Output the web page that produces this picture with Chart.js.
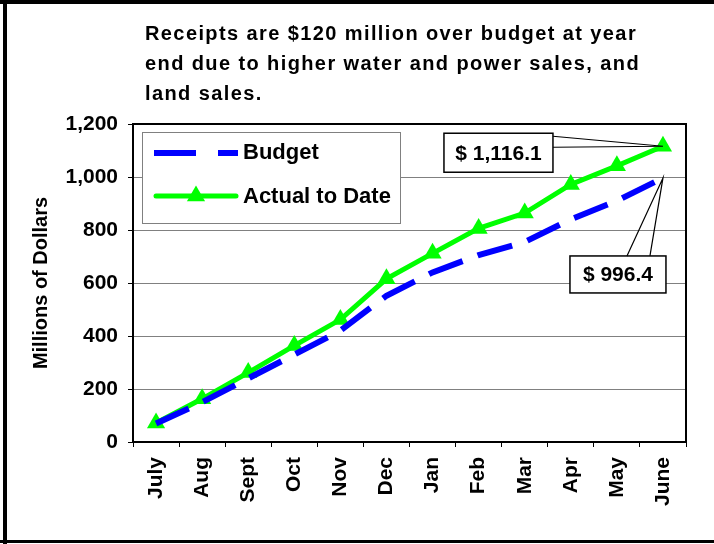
<!DOCTYPE html>
<html>
<head>
<meta charset="utf-8">
<script src="https://cdn.jsdelivr.net/npm/chart.js@4.4.1/dist/chart.umd.min.js"></script>
<style>
  html, body { margin: 0; padding: 0; background: #fff; }
  #wrap { width: 714px; height: 544px; }
</style>
</head>
<body>
<div id="wrap"><canvas id="myChart" width="714" height="544"></canvas></div>
<script>
const months = ['July', 'Aug', 'Sept', 'Oct', 'Nov', 'Dec', 'Jan', 'Feb', 'Mar', 'Apr', 'May', 'June'];
const budget = [70, 150, 240, 330, 420, 552, 640, 705, 755, 840, 910, 996.4];
const actual = [72, 163, 262, 364, 462, 616, 712, 806, 864, 972, 1042, 1116.1];
const yTicks = [0, 200, 400, 600, 800, 1000, 1200];
const titleLines = [
  'Receipts are $120 million over budget at year',
  'end due to higher water and power sales, and',
  'land sales.',
];
const yTitle = 'Millions of Dollars';
const seriesNames = ['Budget', 'Actual to Date'];
const calloutText = ['$ 996.4', '$ 1,116.1'];

const family = '"Liberation Sans", Arial, sans-serif';
const font = `bold 20px ${family}`;
const colors = { budget: '#0000ff', actual: '#00ff00', grid: '#808080' };
const budgetDash = [36, 16];

function drawTriangle(c, x, y, r) {
  c.beginPath();
  c.moveTo(x, y - r);
  c.lineTo(x + r * 0.866, y + r / 2);
  c.lineTo(x - r * 0.866, y + r / 2);
  c.closePath();
  c.fill();
}

// callout box + wedge pointing at a data point
function drawCallout(c, tip, box, base, text) {
  c.save();
  c.strokeStyle = '#000';
  c.lineWidth = 1.5;
  c.fillStyle = '#fff';
  c.fillRect(box.x, box.y, box.w, box.h);
  c.strokeRect(box.x, box.y, box.w, box.h);
  c.beginPath();
  c.moveTo(base[0][0], base[0][1]);
  c.lineTo(tip.x, tip.y);
  c.lineTo(base[1][0], base[1][1]);
  c.lineWidth = 1.2;
  c.stroke();
  c.fillStyle = '#000';
  c.font = `bold 21px ${family}`;
  c.textAlign = 'center';
  c.textBaseline = 'middle';
  c.fillText(text, box.x + box.w / 2, box.y + box.h / 2 + 1);
  c.restore();
}

const decor = {
  id: 'decor',
  beforeDatasetsDraw(chart) {
    const { ctx: c, chartArea: a } = chart;
    c.save();
    c.strokeStyle = '#000';
    c.lineWidth = 2;
    c.strokeRect(a.left, a.top, a.right - a.left, a.bottom - a.top);
    c.restore();
  },
  afterDraw(chart) {
    const c = chart.ctx;
    c.save();
    // outer frame (no right edge in the original crop)
    c.fillStyle = '#000';
    c.fillRect(0, 0, 714, 4);
    c.fillRect(3, 0, 4, 544);
    c.fillRect(0, 540, 714, 3);

    // title, a little spaced out like the original
    c.font = font;
    c.letterSpacing = '1.4px';
    c.textAlign = 'left';
    c.textBaseline = 'alphabetic';
    titleLines.forEach((t, i) => c.fillText(t, 145, 40 + i * 30));
    c.letterSpacing = '0px';

    // legend
    c.fillStyle = '#fff';
    c.fillRect(142, 132, 258, 91);
    c.strokeStyle = colors.grid;
    c.lineWidth = 1;
    c.strokeRect(142.5, 132.5, 258, 91);
    c.lineCap = 'butt';
    c.strokeStyle = colors.budget;
    c.lineWidth = 6;
    c.setLineDash([42, 22]);
    c.beginPath(); c.moveTo(154, 153); c.lineTo(238, 153); c.stroke();
    c.setLineDash([]);
    c.strokeStyle = colors.actual;
    c.lineWidth = 5;
    c.lineCap = 'round';
    c.beginPath(); c.moveTo(156, 196); c.lineTo(236, 196); c.stroke();
    c.fillStyle = colors.actual;
    drawTriangle(c, 196, 196, 10.5);
    c.fillStyle = '#000';
    c.font = `bold 22px ${family}`;
    c.textBaseline = 'middle';
    c.fillText(seriesNames[0], 243, 153);
    c.fillText(seriesNames[1], 243, 197);
    c.restore();

    // callouts anchored at the last point of each series
    const pA = chart.getDatasetMeta(1).data[11];
    const pB = chart.getDatasetMeta(0).data[11];
    drawCallout(c, { x: pA.x, y: pA.y },
      { x: pA.x - 219, y: pA.y - 13, w: 109, h: 39 },
      [[pA.x - 110, pA.y - 10], [pA.x - 110, pA.y + 1]], calloutText[1]);
    drawCallout(c, { x: pB.x, y: pB.y },
      { x: pB.x - 93, y: pB.y + 78, w: 96, h: 37 },
      [[pB.x - 36, pB.y + 78], [pB.x - 13, pB.y + 78]], calloutText[0]);
  },
};

const ctx = document.getElementById('myChart').getContext('2d');
const myChart = new Chart(ctx, {
  type: 'line',
  data: {
    labels: months,
    datasets: [
      {
        label: seriesNames[0],
        data: budget,
        borderColor: colors.budget,
        borderWidth: 6,
        borderDash: budgetDash,
        pointRadius: 0,
        tension: 0,
      },
      {
        label: seriesNames[1],
        data: actual,
        borderColor: colors.actual,
        backgroundColor: colors.actual,
        borderWidth: 5,
        pointStyle: 'triangle',
        pointRadius: 10.5,
        pointBorderWidth: 0,
        pointBackgroundColor: colors.actual,
        tension: 0,
      },
    ],
  },
  options: {
    responsive: false,
    animation: false,
    layout: { padding: { left: 0, right: 28, top: 124, bottom: 0 } },
    plugins: { legend: { display: false }, tooltip: { enabled: false }, title: { display: false } },
    scales: {
      x: {
        offset: true,
        grid: { display: true, drawOnChartArea: false, offset: true, tickLength: 5, tickColor: '#000', lineWidth: 1 },
        border: { color: '#000', width: 2 },
        ticks: {
          minRotation: 90,
          maxRotation: 90,
          padding: 10,
          color: '#000',
          font: { family, size: 21, weight: 'bold' },
        },
        afterFit: (s) => { s.height = 102; },
      },
      y: {
        min: 0,
        max: 1200,
        afterBuildTicks: (s) => { s.ticks = yTicks.map((v) => ({ value: v })); },
        ticks: {
          padding: 10,
          color: '#000',
          font: { family, size: 21, weight: 'bold' },
          callback: (v) => v.toLocaleString('en-US'),
        },
        grid: { color: colors.grid, tickColor: '#000', tickLength: 5, lineWidth: 1 },
        border: { color: '#000', width: 2 },
        title: {
          display: true,
          text: yTitle,
          color: '#000',
          padding: { top: 29, bottom: 0 },
          font: { family, size: 20, weight: 'bold' },
        },
        afterFit: (s) => { s.width = 133; },
      },
    },
  },
  plugins: [decor],
});
</script>
</body>
</html>
